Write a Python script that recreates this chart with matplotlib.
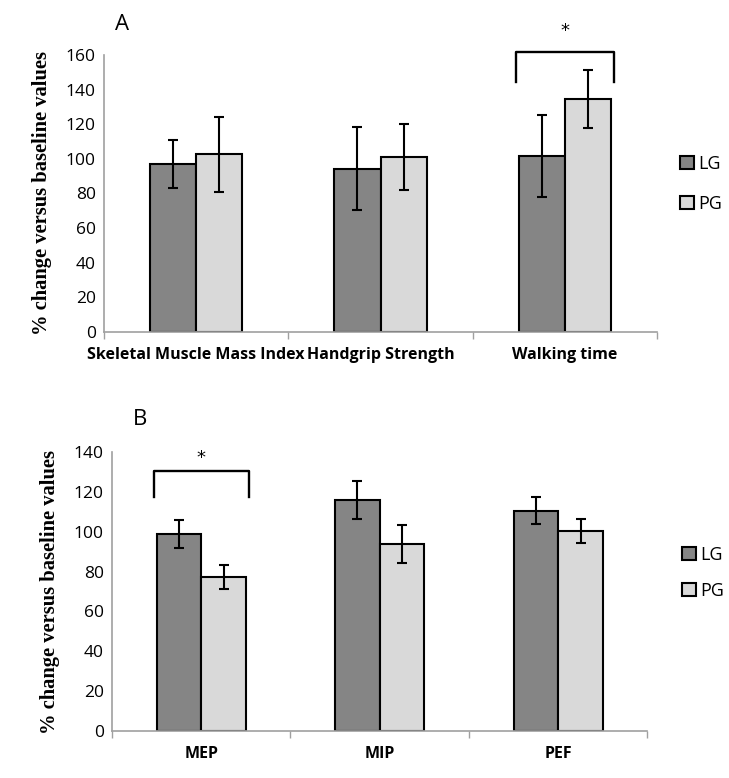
import matplotlib
matplotlib.use("Agg")
import matplotlib.pyplot as plt
import numpy as np
from matplotlib.patches import Patch
from matplotlib.lines import Line2D

# Panel A data
cats_a = ["Skeletal Muscle Mass Index", "Handgrip Strength", "Walking time"]
lg_a = [97, 94.3, 101.7]
lg_a_err = [14, 24, 23.7]
pg_a = [102.6, 101.3, 134.6]
pg_a_err = [21.5, 19, 17]

# Panel B data
cats_b = ["MEP", "MIP", "PEF"]
lg_b = [99.0, 116.0, 110.6]
lg_b_err = [6.9, 9.4, 6.8]
pg_b = [77.4, 94.0, 100.4]
pg_b_err = [6.0, 9.5, 6.2]

series_names = ["LG", "PG"]
LG_COLOR = "#858585"
PG_COLOR = "#d9d9d9"
TICK_FONT = "Open Sans"

fig = plt.figure(figsize=(7.29, 7.78), dpi=100)
axA = fig.add_axes([0.1427, 0.5733, 0.7586, 0.356])
axB = fig.add_axes([0.1536, 0.0608, 0.7346, 0.3578])

def draw(ax, cats, lg, lge, pg, pge, ymax, step, sig_idx, bracket_top, bracket_bot, star_y):
    x = np.arange(len(cats)) + 0.5
    w = 0.25
    ekw = dict(ecolor="black", elinewidth=1.5, capsize=3.5, capthick=1.5)
    ax.bar(x - w / 2, lg, w, yerr=lge, color=LG_COLOR, edgecolor="black",
           linewidth=1.5, error_kw=ekw, label=series_names[0], zorder=2)
    ax.bar(x + w / 2, pg, w, yerr=pge, color=PG_COLOR, edgecolor="black",
           linewidth=1.5, error_kw=ekw, label=series_names[1], zorder=2)
    ax.set_xlim(0, len(cats))
    ax.set_ylim(0, ymax)
    ax.set_yticks(np.arange(0, ymax + 1, step))
    ax.set_xticks(x)
    ax.set_xticklabels(cats, fontfamily=TICK_FONT, fontweight="bold", fontsize=11.5)
    ax.set_xticks(np.arange(0, len(cats) + 1), minor=True)
    ax.tick_params(axis="x", which="major", length=0, pad=11)
    ax.tick_params(axis="x", which="minor", length=5, color="#a0a0a0", width=1)
    ax.tick_params(axis="y", length=0, pad=6)
    for lbl in ax.get_yticklabels():
        lbl.set_fontfamily(TICK_FONT)
        lbl.set_fontsize(12.5)
    for s in ["top", "right"]:
        ax.spines[s].set_visible(False)
    for s in ["left", "bottom"]:
        ax.spines[s].set_color("#a0a0a0")
        ax.spines[s].set_linewidth(1.2)
    ax.set_ylabel("% change versus baseline values", fontfamily="Liberation Serif",
                  fontweight="bold", fontsize=14.8, labelpad=10)
    # significance bracket
    xc = x[sig_idx]
    x0, x1 = xc - 0.265, xc + 0.265
    ax.add_line(Line2D([x0, x0, x1, x1], [bracket_bot, bracket_top, bracket_top, bracket_bot],
                       color="black", lw=1.7, clip_on=False))
    ax.text(xc, star_y, "*", ha="center", va="center", fontsize=13, fontfamily="DejaVu Sans")
    handles = [Patch(facecolor=LG_COLOR, edgecolor="black", linewidth=1.5),
               Patch(facecolor=PG_COLOR, edgecolor="black", linewidth=1.5)]
    return handles

hA = draw(axA, cats_a, lg_a, lg_a_err, pg_a, pg_a_err, 160, 20, 2, 161.6, 144.2, 174)
hB = draw(axB, cats_b, lg_b, lg_b_err, pg_b, pg_b_err, 140, 20, 0, 130.7, 117.3, 137)

legkw = dict(frameon=False, handlelength=0.75, handleheight=0.75, handletextpad=0.25,
             prop={"family": TICK_FONT, "size": 13})
axA.legend(hA, series_names, loc="center left", bbox_to_anchor=(1.013, 0.535),
           labelspacing=1.25, **legkw)
axB.legend(hB, series_names, loc="center left", bbox_to_anchor=(1.035, 0.566),
           labelspacing=1.0, **legkw)

fig.text(122 / 729, 1 - 25 / 778, "A", fontfamily=TICK_FONT, fontsize=16, ha="center", va="center")
fig.text(140 / 729, 1 - 419 / 778, "B", fontfamily=TICK_FONT, fontsize=16, ha="center", va="center")

fig.savefig("out.png", dpi=100)
